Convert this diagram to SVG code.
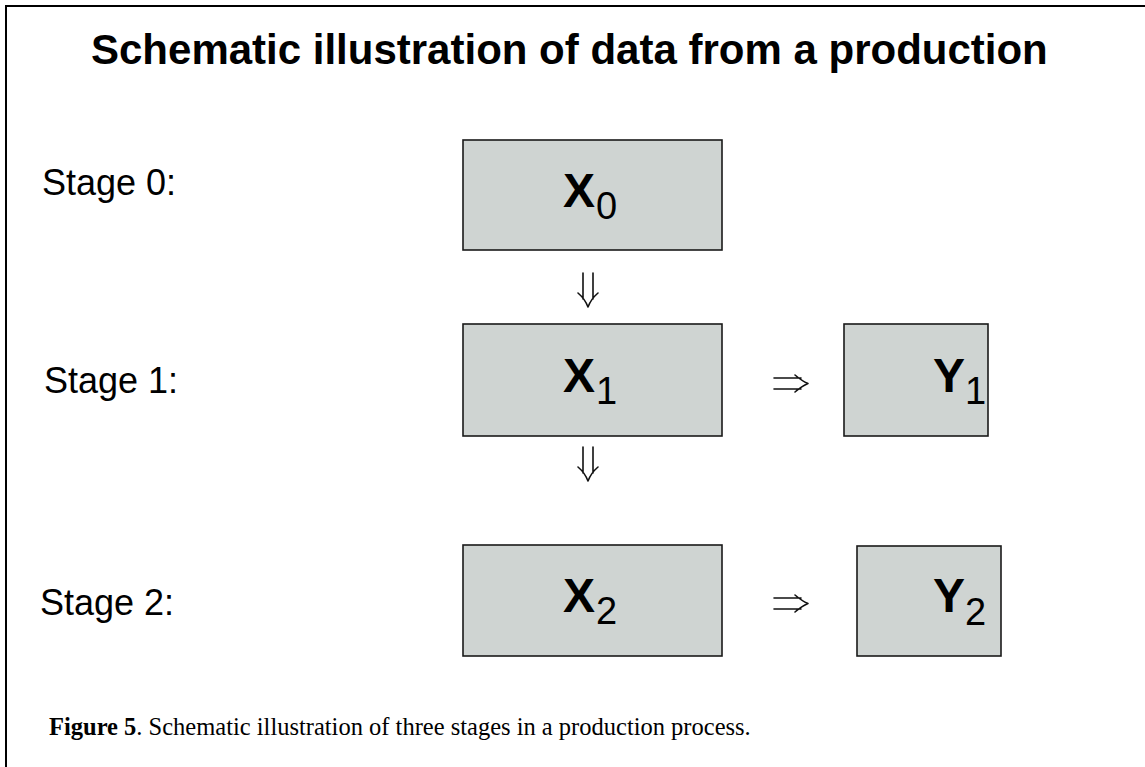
<svg xmlns="http://www.w3.org/2000/svg" width="1145" height="767" viewBox="0 0 1145 767">
<style>
.box{fill:#cfd4d2;stroke:#1a1a1a;stroke-width:1.6}
.lbl{font-family:"Liberation Sans",Arial,sans-serif;font-weight:bold;font-size:48px;fill:#000}
.sub{font-family:"Liberation Sans",Arial,sans-serif;font-size:38px;fill:#000}
.stage{font-family:"Liberation Sans",Arial,sans-serif;font-size:36px;fill:#000}
.arr{fill:none;stroke:#111;stroke-width:1.6;stroke-linecap:round;stroke-linejoin:round}
.cap{font-family:"Liberation Serif","Times New Roman",serif;font-size:24.5px;fill:#000}
</style>
<defs>
<path id="down" d="M583,273 V299 M593,273 V299 M578,293 Q585,299 588,307 Q591,299 598,293"/>
<path id="right" d="M774,378 H801 M774,389 H801 M795,375 Q802,381 808,383.5 Q802,386 795,392"/>
</defs>
<rect x="0" y="0" width="1145" height="767" fill="#fff"/>
<rect x="6" y="6" width="1200" height="800" fill="none" stroke="#000" stroke-width="2"/>
<text x="91" y="64" font-family="Liberation Sans, Arial, sans-serif" font-weight="bold" font-size="42">Schematic illustration of data from a production</text>
<text class="stage" x="42" y="195">Stage 0:</text>
<text class="stage" x="44" y="393">Stage 1:</text>
<text class="stage" x="40" y="615">Stage 2:</text>
<g id="x0"><rect class="box" x="463" y="140" width="259" height="110"/><text class="lbl" x="563" y="207">X</text><text class="sub" x="596" y="219">0</text></g>
<g id="x1"><rect class="box" x="463" y="324" width="259" height="112"/><text class="lbl" x="563" y="392">X</text><text class="sub" x="596" y="404">1</text></g>
<g id="y1"><rect class="box" x="844" y="324" width="144" height="112"/><text class="lbl" x="933" y="392">Y</text><text class="sub" x="965" y="404">1</text></g>
<g id="x2"><rect class="box" x="463" y="545" width="259" height="111"/><text class="lbl" x="563" y="612">X</text><text class="sub" x="596" y="624">2</text></g>
<g id="y2"><rect class="box" x="857" y="546" width="144" height="110"/><text class="lbl" x="933" y="612">Y</text><text class="sub" x="965" y="625">2</text></g>
<g id="connectors" class="arr">
<use href="#down"/>
<use href="#down" y="174"/>
<use href="#right"/>
<use href="#right" y="220"/>
</g>
<text class="cap" x="49" y="735"><tspan font-weight="bold">Figure 5</tspan>. Schematic illustration of three stages in a production process.</text>
</svg>
